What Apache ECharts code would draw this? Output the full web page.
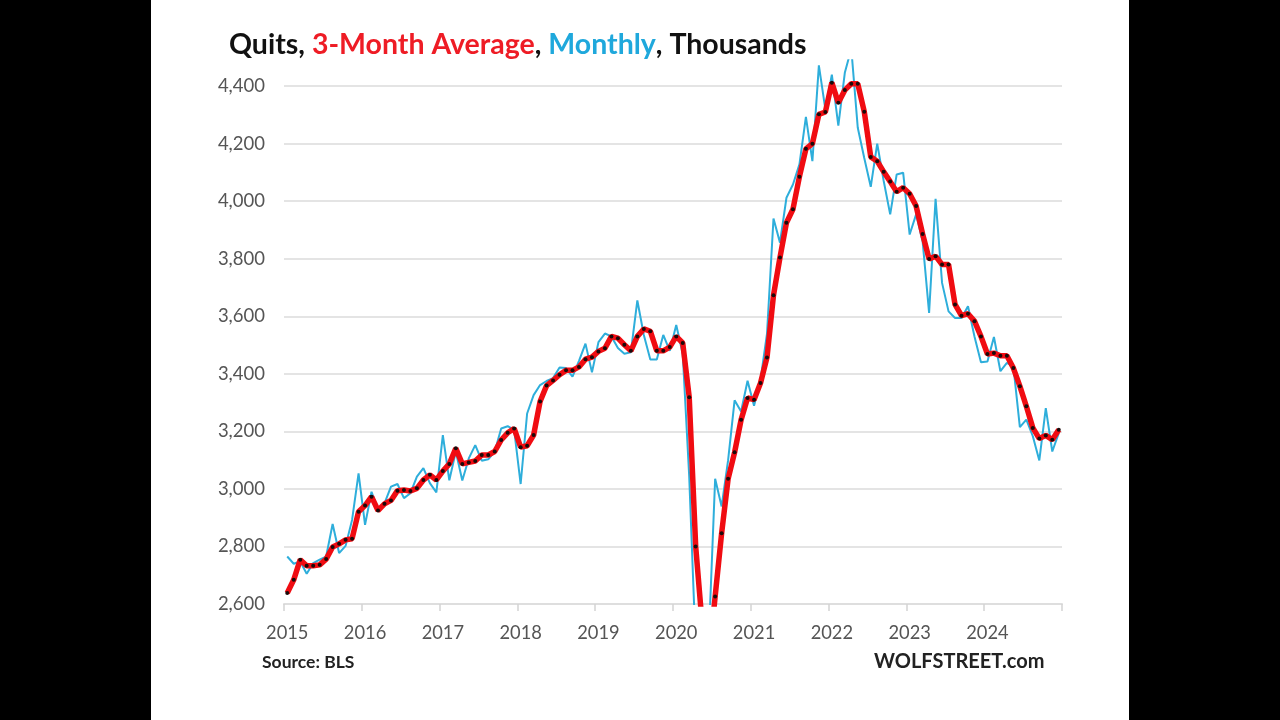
<!DOCTYPE html>
<html>
<head>
<meta charset="utf-8">
<title>Quits</title>
<script src="https://cdn.jsdelivr.net/npm/echarts@6/dist/echarts.min.js"></script>
<style>
  html, body { margin: 0; height: 100%; background: #000; overflow: hidden; }
  #chart { position: absolute; left: 151px; top: 0; width: 978px; height: 720px; background: #fff; }
</style>
</head>
<body>
<div id="chart"></div>
<script>
const years = [2015, 2016, 2017, 2018, 2019, 2020, 2021, 2022, 2023, 2024]
const yTicks = [2600, 2800, 3000, 3200, 3400, 3600, 3800, 4000, 4200, 4400]

const monthly = [
  2765, 2740, 2748, 2705, 2742, 2754, 2765, 2878, 2777, 2802, 2892, 3054,
  2875, 2990, 2927, 2950, 3008, 3017, 2968, 2985, 3043, 3072, 3020, 2988,
  3187, 3030, 3130, 3029, 3106, 3152, 3098, 3103, 3130, 3210, 3218, 3205,
  3017, 3262, 3326, 3361, 3375, 3385, 3422, 3420, 3390, 3445, 3505, 3405,
  3510, 3540, 3530, 3490, 3470, 3475, 3655, 3535, 3450, 3450, 3535, 3480,
  3570, 3470, 3043, 2450, 2335, 2469, 3035, 2939, 3100, 3308, 3269, 3376,
  3289, 3380, 3540, 3940, 3856, 4012, 4058, 4128, 4293, 4139, 4472, 4319,
  4440, 4263, 4446, 4530, 4255, 4150, 4050, 4200, 4070, 3954, 4093, 4099,
  3884, 3954, 3861, 3612, 4008, 3716, 3617, 3594, 3594, 3635, 3530, 3440,
  3443, 3528, 3409, 3438, 3426, 3215, 3241, 3183, 3099, 3281, 3130, 3194
]

const avg3m = [
  2638, 2684, 2754, 2733, 2733, 2736, 2756, 2798, 2809, 2823, 2827, 2921,
  2942, 2973, 2925, 2948, 2960, 2994, 2996, 2993, 3002, 3031, 3049, 3031,
  3062, 3087, 3141, 3087, 3092, 3097, 3118, 3118, 3130, 3170, 3195, 3210,
  3145, 3150, 3187, 3304, 3359, 3377, 3397, 3412, 3412, 3424, 3451, 3458,
  3478, 3489, 3530, 3524, 3501, 3480, 3530, 3556, 3548, 3480, 3480, 3493,
  3530, 3507, 3319, 2800, 2530, 2400, 2626, 2846, 3035, 3127, 3240, 3316,
  3310, 3368, 3457, 3673, 3804, 3925, 3972, 4085, 4182, 4200, 4302, 4310,
  4412, 4342, 4386, 4408, 4408, 4311, 4154, 4139, 4102, 4068, 4033, 4047,
  4026, 3983, 3886, 3799, 3809, 3780, 3780, 3641, 3602, 3609, 3583, 3530,
  3469, 3472, 3463, 3463, 3420, 3357, 3287, 3212, 3175, 3186, 3171, 3206
]

const months = []
years.forEach(y => {
  for (let m = 1; m <= 12; m++) months.push(y + '-' + String(m).padStart(2, '0'))
})

const font = 'Lato, "Open Sans", sans-serif'
const everyYear = i => i % 12 === 0

const chart = echarts.init(document.getElementById('chart'))
chart.setOption({
  animation: false,
  title: [
    {
      left: 73, top: 25,
      text: '{k|Quits, }{r|3-Month Average}{k|, }{b|Monthly}{k|, Thousands}',
      textStyle: {
        fontFamily: font,
        rich: {
          k: { fontFamily: font, fontSize: 28.5, fontWeight: 'bold', color: '#111' },
          r: { fontFamily: font, fontSize: 28.5, fontWeight: 'bold', color: '#ee1c25' },
          b: { fontFamily: font, fontSize: 28.5, fontWeight: 'bold', color: '#1fa8dc' }
        }
      }
    },
    {
      left: 106, top: 648, text: 'Source: BLS',
      textStyle: { fontFamily: font, fontSize: 17.5, fontWeight: 'bold', color: '#222' }
    },
    {
      left: 718, top: 647, text: 'WOLFSTREET.com',
      textStyle: { fontFamily: font, fontSize: 20, fontWeight: 'bold', color: '#222' }
    }
  ],
  // top edge sits where the monthly line gets cut off in the original
  grid: { left: 133, width: 778, top: 60.2, bottom: 116 },
  xAxis: {
    type: 'category',
    data: months,
    boundaryGap: true,
    axisLine: { show: true, lineStyle: { color: '#dedede', width: 2 } },
    axisTick: {
      show: true,
      alignWithLabel: false,
      interval: i => everyYear(i),
      length: 7,
      lineStyle: { color: '#d4d4d4', width: 1.5 }
    },
    axisLabel: {
      interval: i => everyYear(i),
      formatter: v => v.slice(0, 4),
      hideOverlap: false,
      margin: 20,
      fontFamily: font, fontSize: 18.3, color: '#555'
    }
  },
  yAxis: {
    type: 'value',
    min: yTicks[0],
    max: 4490,
    interval: 200,
    axisLine: { show: false },
    axisTick: { show: false },
    axisLabel: {
      showMaxLabel: false,
      margin: 19,
      formatter: v => v.toLocaleString('en-US'),
      fontFamily: font, fontSize: 18.5, color: '#555'
    },
    splitLine: { showMaxLine: false, lineStyle: { color: '#e4e4e4', width: 2 } }
  },
  series: [
    {
      name: 'Monthly',
      type: 'line',
      data: monthly,
      symbol: 'none',
      lineStyle: { color: '#2eaedb', width: 2 },
      z: 2
    },
    {
      name: '3-Month Average',
      type: 'line',
      data: avg3m,
      symbol: 'circle',
      symbolSize: 4,
      showAllSymbol: true,
      itemStyle: { color: '#1a0a0a' },
      lineStyle: { color: '#f00c12', width: 5.5 },
      z: 3
    }
  ]
})
</script>
</body>
</html>
